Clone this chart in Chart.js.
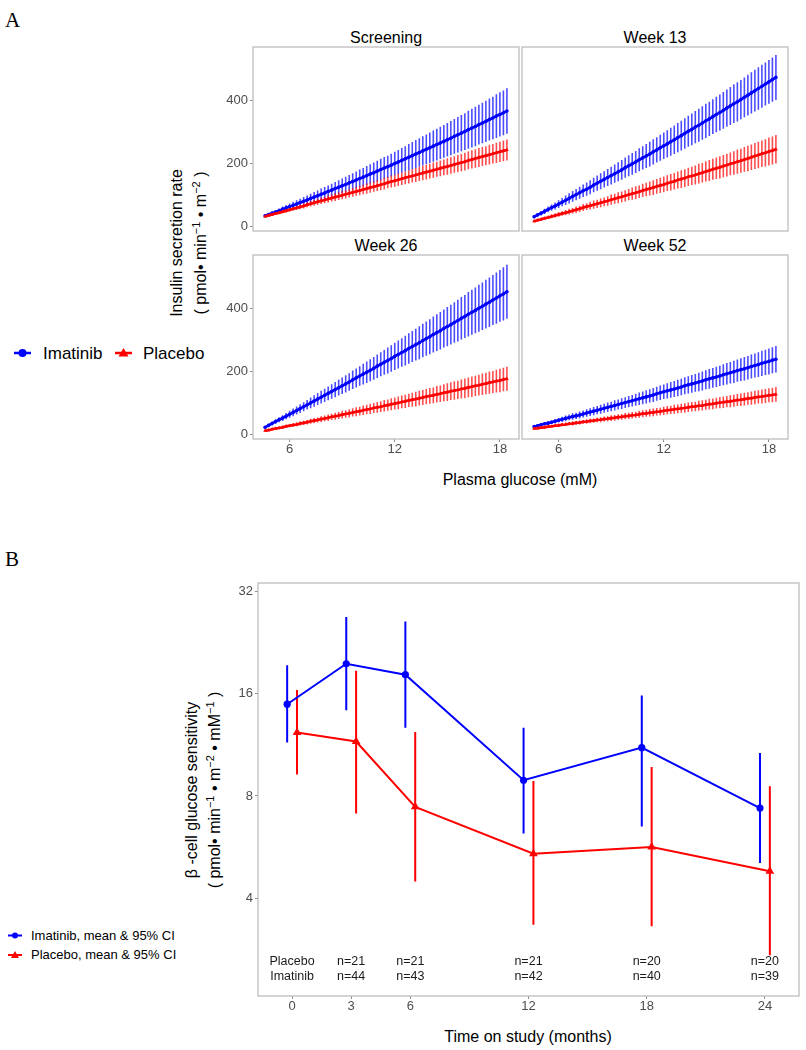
<!DOCTYPE html>
<html>
<head>
<meta charset="utf-8">
<script src="https://cdn.jsdelivr.net/npm/chart.js@4.4.0/dist/chart.umd.min.js"></script>
<style>
  body { margin: 0; background: #fff; width: 806px; height: 1050px; position: relative; overflow: hidden;
         font-family: "Liberation Sans", Arial, sans-serif; color: #000; }
  canvas { position: absolute; }
  .t { position: absolute; white-space: nowrap; line-height: 1; }
  .panel { font-family: "Liberation Serif", "Times New Roman", serif; font-size: 21px; }
  .strip { font-size: 16px; transform: translateX(-50%); }
  .xt { font-size: 16px; transform: translate(-50%, -50%); }
  .yt { font-size: 16px; transform: translate(-50%, -50%) rotate(-90deg); }
  .yt sup { font-size: 11px; vertical-align: 6px; line-height: 0; }
  .lg { font-size: 17px; }
  .lgb { font-size: 13px; }
</style>
</head>
<body>

<div class="t panel" style="left:5px;top:10px;">A</div>
<div class="t panel" style="left:5px;top:549px;">B</div>

<div class="t strip" style="left:386px;top:30px;">Screening</div>
<div class="t strip" style="left:655px;top:30px;">Week 13</div>
<div class="t strip" style="left:386px;top:238px;">Week 26</div>
<div class="t strip" style="left:655px;top:238px;">Week 52</div>

<div class="t yt" style="left:177px;top:243px;">Insulin secretion rate</div>
<div class="t yt" style="left:201px;top:243px;">( pmol• min<sup>−1</sup> • m<sup>−2</sup> )</div>
<div class="t xt" style="left:520px;top:480px;">Plasma glucose (mM)</div>

<div class="t yt" style="left:192px;top:790px;">β -cell glucose sensitivity</div>
<div class="t yt" style="left:215px;top:790px;">( pmol• min<sup>−1</sup> • m<sup>−2</sup> • mM<sup>−1</sup> )</div>
<div class="t xt" style="left:528px;top:1037px;">Time on study (months)</div>

<svg style="position:absolute;left:0;top:340px;" width="240" height="28">
  <line x1="14" y1="13" x2="31" y2="13" stroke="#0000ff" stroke-width="2.5"/>
  <circle cx="22.5" cy="13" r="4" fill="#0000ff"/>
  <line x1="115" y1="13" x2="132" y2="13" stroke="#ff0000" stroke-width="2.5"/>
  <polygon points="123.5,8 128.5,16.5 118.5,16.5" fill="#ff0000"/>
</svg>
<div class="t lg" style="left:43px;top:345px;">Imatinib</div>
<div class="t lg" style="left:143px;top:345px;">Placebo</div>

<svg style="position:absolute;left:0;top:925px;" width="30" height="40">
  <line x1="8" y1="10.5" x2="22" y2="10.5" stroke="#0000ff" stroke-width="2"/>
  <circle cx="15" cy="10.5" r="3" fill="#0000ff"/>
  <line x1="8" y1="30" x2="22" y2="30" stroke="#ff0000" stroke-width="2"/>
  <polygon points="15,26 19,33 11,33" fill="#ff0000"/>
</svg>
<div class="t lgb" style="left:31px;top:929px;">Imatinib, mean &amp; 95% CI</div>
<div class="t lgb" style="left:31px;top:948px;">Placebo, mean &amp; 95% CI</div>

<script>
// Panel A: modelled insulin secretion rate vs plasma glucose, mean and CI half-width
var glucose = [4.6,4.8,5.0,5.2,5.4,5.6,5.8,6.0,6.2,6.4,6.6,6.8,7.0,7.2,7.4,7.6,7.8,8.0,8.2,8.4,
  8.6,8.8,9.0,9.2,9.4,9.6,9.8,10.0,10.2,10.4,10.6,10.8,11.0,11.2,11.4,11.6,11.8,12.0,12.2,12.4,
  12.6,12.8,13.0,13.2,13.4,13.6,13.8,14.0,14.2,14.4,14.6,14.8,15.0,15.2,15.4,15.6,15.8,16.0,16.2,16.4,
  16.6,16.8,17.0,17.2,17.4,17.6,17.8,18.0,18.2,18.4];

var scrImat = [35,39,43,47,51,56,60,64,68,72,77,81,85,90,94,98,103,107,112,116,
  121,125,130,134,139,143,148,153,157,162,167,171,176,181,186,190,195,200,205,210,
  215,220,225,230,235,240,245,250,255,260,265,270,275,280,286,291,296,301,307,312,
  317,323,328,333,339,344,350,355,360,366];
var scrImatCI = [4,5,6,6,7,8,9,10,11,12,12,13,14,15,16,17,18,19,19,20,
  21,22,23,24,25,26,27,28,29,30,31,32,33,34,35,35,36,37,38,39,
  40,42,43,44,45,46,47,48,49,50,51,52,53,54,55,56,57,58,60,61,
  62,63,64,65,66,67,69,70,71,72];
var scrPlac = [33,36,39,42,45,48,51,54,57,60,63,66,70,73,76,79,82,85,88,91,
  94,97,100,103,106,109,112,115,118,121,124,127,130,133,136,140,143,146,149,152,
  155,158,161,164,167,170,173,176,179,182,185,188,191,194,197,200,203,206,210,213,
  216,219,222,225,228,231,234,237,240,243];
var scrPlacCI = [3,3,4,4,5,5,6,6,6,7,7,8,8,9,9,10,10,10,11,11,
  12,12,13,13,13,14,14,15,15,16,16,16,17,17,18,18,19,19,20,20,
  20,21,21,22,22,23,23,23,24,24,25,25,26,26,26,27,27,28,28,29,
  29,30,30,30,31,31,32,32,33,33];

var w13Imat = [32,38,43,49,55,61,66,72,78,84,90,96,102,108,114,119,125,132,138,144,
  150,156,162,168,174,180,187,193,199,205,212,218,224,230,237,243,250,256,262,269,
  275,282,288,295,302,308,315,321,328,335,341,348,355,361,368,375,382,389,395,402,
  409,416,423,430,437,444,451,458,465,472];
var w13ImatCI = [5,6,7,8,9,10,11,12,13,15,16,17,18,19,20,21,22,23,24,25,
  26,27,28,29,30,31,32,33,34,35,36,37,38,39,40,40,41,42,43,44,
  45,46,47,48,49,50,51,52,53,54,54,55,56,57,58,59,60,61,62,62,
  63,64,65,66,67,68,68,69,70,71];
var w13Plac = [18,21,24,27,30,33,36,39,42,45,48,51,54,57,61,64,67,70,73,76,
  79,82,86,89,92,95,98,102,105,108,111,115,118,121,124,128,131,134,138,141,
  144,148,151,154,158,161,164,168,171,175,178,182,185,188,192,195,199,202,206,209,
  213,216,220,224,227,231,234,238,241,245];
var w13PlacCI = [3,4,4,5,5,6,6,7,7,8,9,9,10,10,11,11,12,13,13,14,
  14,15,16,16,17,17,18,18,19,20,20,21,21,22,23,23,24,25,25,26,
  26,27,28,28,29,29,30,31,31,32,33,33,34,35,35,36,36,37,38,38,
  39,40,40,41,42,42,43,44,44,45];

var w26Imat = [24,30,36,42,48,53,59,65,71,77,83,89,95,101,107,113,119,125,131,137,
  143,149,155,161,167,174,180,186,192,198,204,210,217,223,229,235,241,248,254,260,
  266,273,279,285,291,298,304,310,317,323,329,336,342,348,355,361,368,374,381,387,
  393,400,406,413,419,426,432,439,445,452];
var w26ImatCI = [4,5,6,7,8,9,10,11,12,13,14,14,15,17,18,19,20,21,22,23,
  24,25,26,27,28,29,30,31,33,34,35,36,37,38,39,41,42,43,44,45,
  47,48,49,50,52,53,54,55,57,58,59,60,62,63,64,66,67,68,70,71,
  72,74,75,77,78,79,81,82,84,85];
var w26Plac = [13,15,18,20,22,24,27,29,31,33,36,38,40,43,45,47,50,52,54,57,
  59,61,64,66,68,71,73,75,78,80,82,85,87,89,92,94,97,99,101,104,
  106,109,111,113,116,118,121,123,125,128,130,133,135,138,140,142,145,147,150,152,
  155,157,160,162,165,167,170,172,175,177];
var w26PlacCI = [2,2,3,3,4,4,5,5,5,6,6,7,7,8,8,8,9,9,10,10,
  11,11,12,12,13,13,14,14,15,15,16,16,17,17,18,18,19,19,20,20,
  21,21,22,23,23,24,24,25,25,26,26,27,28,28,29,29,30,31,31,32,
  32,33,34,34,35,35,36,37,37,38];

var w52Imat = [26,29,32,35,37,40,43,46,49,52,55,58,60,63,66,69,72,75,78,81,
  84,87,90,93,96,99,102,105,108,111,114,117,120,123,126,130,133,136,139,142,
  145,148,151,155,158,161,164,167,170,174,177,180,183,186,190,193,196,199,203,206,
  209,212,216,219,222,226,229,232,236,239];
var w52ImatCI = [4,4,5,5,6,6,7,7,8,9,9,10,10,11,11,12,12,13,13,14,
  14,15,15,16,16,17,17,18,18,19,20,20,21,21,22,22,23,23,24,25,
  25,26,26,27,27,28,28,29,30,30,31,31,32,32,33,34,34,35,35,36,
  37,37,38,38,39,40,40,41,41,42];
var w52Plac = [20,21,23,24,26,27,29,30,32,33,35,36,38,39,41,42,44,45,47,48,
  50,51,53,54,56,57,59,60,62,63,65,67,68,70,71,73,74,76,78,79,
  81,82,84,85,87,89,90,92,93,95,97,98,100,102,103,105,106,108,110,111,
  113,115,116,118,120,121,123,125,126,128];
var w52PlacCI = [3,3,3,4,4,4,4,5,5,5,5,6,6,6,6,7,7,7,7,8,
  8,8,9,9,9,9,10,10,10,10,11,11,11,12,12,12,12,13,13,13,
  14,14,14,15,15,15,15,16,16,16,17,17,17,18,18,18,19,19,19,20,
  20,20,21,21,21,22,22,22,23,23];

var glucoseTicks = [6, 12, 18];
var rateTicks = [0, 200, 400];

// Panel B: beta-cell glucose sensitivity over time
var months = [0, 3, 6, 12, 18, 24];
var imatMean = [14.9, 19.6, 18.2, 8.9, 11.1, 7.37];
var imatLo = [11.5, 14.3, 12.7, 6.2, 6.5, 5.08];
var imatHi = [19.4, 26.9, 26.1, 12.7, 15.8, 10.7];
var placMean = [12.3, 11.57, 7.43, 5.41, 5.66, 4.8];
var placLo = [9.25, 7.1, 4.48, 3.34, 3.31, 2.72];
var placHi = [16.4, 18.7, 12.35, 8.86, 9.74, 8.54];
var monthTicks = [0, 3, 6, 12, 18, 24];
var sensTicks = [4, 8, 16, 32];
var nMonths = [3, 6, 12, 18, 24];
var nPlacebo = [21, 21, 21, 20, 20];
var nImatinib = [44, 43, 42, 40, 39];

var FONT = '"Liberation Sans", Arial, sans-serif';
var BLUE = '#0000ff', RED = '#ff0000';

// vertical CI segments, drawn under the lines
var errorBars = {
  id: 'errorBars',
  beforeDatasetsDraw: function(chart) {
    var ctx = chart.ctx, x = chart.scales.x, y = chart.scales.y;
    ctx.save();
    chart.data.datasets.forEach(function(ds) {
      ctx.strokeStyle = ds.errColor;
      ctx.lineWidth = ds.errWidth;
      ctx.beginPath();
      ds.data.forEach(function(p, i) {
        var px = x.getPixelForValue(p.x);
        ctx.moveTo(px, y.getPixelForValue(ds.errLo[i]));
        ctx.lineTo(px, y.getPixelForValue(ds.errHi[i]));
      });
      ctx.stroke();
    });
    ctx.restore();
  }
};

var panelBox = {
  id: 'panelBox',
  afterDraw: function(chart) {
    var a = chart.chartArea, ctx = chart.ctx;
    ctx.save();
    ctx.strokeStyle = '#bdbdbd';
    ctx.lineWidth = 1.3;
    ctx.strokeRect(a.left, a.top, a.right - a.left, a.bottom - a.top);
    ctx.restore();
  }
};

function fixTicks(list) {
  return function(s) { s.ticks = list.map(function(v) { return {value: v}; }); };
}

function makeCanvas(left, top, w, h, padT, padR, axW, axH) {
  var c = document.createElement('canvas');
  c.width = axW + w + padR;
  c.height = padT + h + axH;
  c.style.left = (left - axW) + 'px';
  c.style.top = (top - padT) + 'px';
  document.body.appendChild(c);
  return c;
}

var facets = [
  {imat: scrImat, imatCI: scrImatCI, plac: scrPlac, placCI: scrPlacCI, left: 253, top: 47, yLab: true, xLab: false},
  {imat: w13Imat, imatCI: w13ImatCI, plac: w13Plac, placCI: w13PlacCI, left: 522, top: 47, yLab: false, xLab: false},
  {imat: w26Imat, imatCI: w26ImatCI, plac: w26Plac, placCI: w26PlacCI, left: 253, top: 255, yLab: true, xLab: true},
  {imat: w52Imat, imatCI: w52ImatCI, plac: w52Plac, placCI: w52PlacCI, left: 522, top: 255, yLab: false, xLab: true}
];

function curve(mean, ci, color, errColor, style, order) {
  return {
    data: glucose.map(function(g, i) { return {x: g, y: mean[i]}; }),
    errLo: mean.map(function(m, i) { return m - ci[i]; }),
    errHi: mean.map(function(m, i) { return m + ci[i]; }),
    errColor: errColor, errWidth: 1.6,
    borderColor: color, backgroundColor: color, borderWidth: 2.6,
    pointStyle: style, pointRadius: style === 'triangle' ? 2.2 : 1.8, pointBorderWidth: 0,
    order: order
  };
}

facets.forEach(function(f) {
  var W = 266, H = 184, padT = 12, padR = 12, axW = 45, axH = 24;
  var c = makeCanvas(f.left, f.top, W, H, padT, padR, axW, axH);
  new Chart(c, {
    type: 'line',
    data: {datasets: [
      curve(f.imat, f.imatCI, BLUE, 'rgba(0,0,255,0.7)', 'circle', 1),
      curve(f.plac, f.placCI, RED, 'rgba(255,0,0,0.7)', 'triangle', 0)
    ]},
    options: {
      responsive: false, animation: false, devicePixelRatio: 1,
      layout: {padding: {top: padT, right: padR, left: 0, bottom: 0}},
      plugins: {legend: {display: false}, tooltip: {enabled: false}},
      scales: {
        x: {
          type: 'linear', min: 3.91, max: 19.09,
          afterFit: function(s) { s.height = axH; },
          afterBuildTicks: fixTicks(glucoseTicks),
          grid: {display: f.xLab, drawOnChartArea: false, tickLength: 3, color: '#8c8c8c'},
          border: {display: false},
          ticks: {display: f.xLab, color: '#4d4d4d', font: {size: 13, family: FONT}, padding: 0, maxRotation: 0}
        },
        y: {
          type: 'linear', min: -13, max: 568,
          afterFit: function(s) { s.width = axW; },
          afterBuildTicks: fixTicks(rateTicks),
          grid: {display: f.yLab, drawOnChartArea: false, tickLength: 3, color: '#8c8c8c'},
          border: {display: false},
          ticks: {display: f.yLab, color: '#4d4d4d', font: {size: 13, family: FONT}, padding: 2}
        }
      }
    },
    plugins: [errorBars, panelBox]
  });
});

// sample sizes written under the curves in panel B
var nLabels = {
  id: 'nLabels',
  afterDatasetsDraw: function(chart) {
    var ctx = chart.ctx, x = chart.scales.x, y = chart.scales.y;
    var yP = y.getPixelForValue(2.6), yI = y.getPixelForValue(2.36);
    ctx.save();
    ctx.font = '12.5px ' + FONT;
    ctx.fillStyle = '#1a1a1a';
    ctx.textAlign = 'center';
    ctx.textBaseline = 'middle';
    ctx.fillText('Placebo', x.getPixelForValue(months[0]), yP);
    ctx.fillText('Imatinib', x.getPixelForValue(months[0]), yI);
    nMonths.forEach(function(m, i) {
      ctx.fillText('n=' + nPlacebo[i], x.getPixelForValue(m), yP);
      ctx.fillText('n=' + nImatinib[i], x.getPixelForValue(m), yI);
    });
    ctx.restore();
  }
};

var dodge = 0.25;
var cB = makeCanvas(258, 583, 541, 413, 12, 12, 45, 24);
new Chart(cB, {
  type: 'line',
  data: {datasets: [
    {
      data: months.map(function(m, i) { return {x: m - dodge, y: imatMean[i]}; }),
      errLo: imatLo, errHi: imatHi, errColor: BLUE, errWidth: 2,
      borderColor: BLUE, backgroundColor: BLUE, borderWidth: 2,
      pointStyle: 'circle', pointRadius: 3.6, pointBorderWidth: 0, order: 1
    },
    {
      data: months.map(function(m, i) { return {x: m + dodge, y: placMean[i]}; }),
      errLo: placLo, errHi: placHi, errColor: RED, errWidth: 2,
      borderColor: RED, backgroundColor: RED, borderWidth: 2,
      pointStyle: 'triangle', pointRadius: 5, pointBorderWidth: 0, order: 0
    }
  ]},
  options: {
    responsive: false, animation: false, devicePixelRatio: 1,
    layout: {padding: {top: 12, right: 12, left: 0, bottom: 0}},
    plugins: {legend: {display: false}, tooltip: {enabled: false}},
    scales: {
      x: {
        type: 'linear', min: -1.73, max: 25.73,
        afterFit: function(s) { s.height = 24; },
        afterBuildTicks: fixTicks(monthTicks),
        grid: {drawOnChartArea: false, tickLength: 3, color: '#8c8c8c'},
        border: {display: false},
        ticks: {color: '#4d4d4d', font: {size: 13, family: FONT}, padding: 0, maxRotation: 0}
      },
      y: {
        type: 'logarithmic', min: 2.062, max: 33.88,
        afterFit: function(s) { s.width = 45; },
        afterBuildTicks: fixTicks(sensTicks),
        grid: {drawOnChartArea: false, tickLength: 3, color: '#8c8c8c'},
        border: {display: false},
        ticks: {color: '#4d4d4d', font: {size: 13, family: FONT}, padding: 2,
                callback: function(v) { return String(v); }}
      }
    }
  },
  plugins: [errorBars, nLabels, panelBox]
});
</script>
</body>
</html>
